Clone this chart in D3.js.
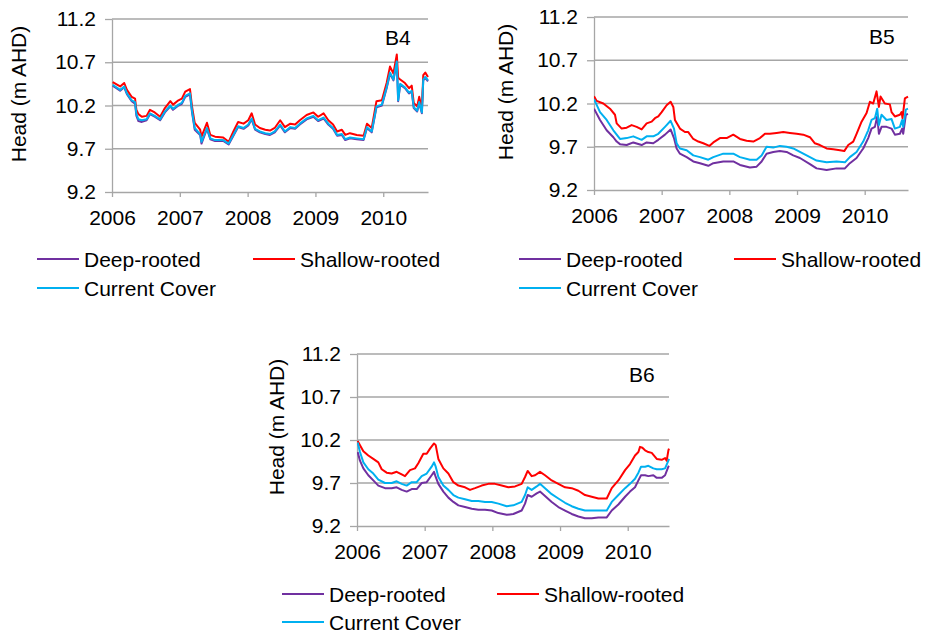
<!DOCTYPE html>
<html><head><meta charset="utf-8">
<script src="https://cdn.jsdelivr.net/npm/d3@7"></script>
<style>
html,body{margin:0;padding:0;background:#fff;}
svg text{font-family:"Liberation Sans",Arial,Helvetica,sans-serif;fill:#000;}
</style></head>
<body>
<svg id="chart" width="933" height="632"></svg>
<script>
// ---------- DATA ----------
const yearTicks = [2006, 2007, 2008, 2009, 2010];
const headTicks = [9.2, 9.7, 10.2, 10.7, 11.2];
const seriesNames = ["Deep-rooted", "Shallow-rooted", "Current Cover"];
const panelNames = ["B4", "B5", "B6"];
const yLabel = "Head (m AHD)";

// B4 (all series share dates)
const b4Dates = [2006.01,2006.12,2006.18,2006.22,2006.29,2006.34,2006.36,2006.39,2006.44,2006.51,2006.56,2006.63,2006.71,2006.78,2006.86,2006.90,2006.98,2007.03,2007.08,2007.15,2007.18,2007.22,2007.30,2007.32,2007.40,2007.45,2007.52,2007.64,2007.72,2007.79,2007.86,2007.94,2008.01,2008.06,2008.11,2008.18,2008.26,2008.33,2008.40,2008.48,2008.55,2008.63,2008.70,2008.77,2008.87,2008.97,2009.04,2009.12,2009.19,2009.26,2009.32,2009.39,2009.44,2009.51,2009.61,2009.71,2009.76,2009.83,2009.90,2009.98,2010.05,2010.10,2010.15,2010.20,2010.22,2010.25,2010.32,2010.38,2010.42,2010.45,2010.50,2010.53,2010.57,2010.59,2010.62,2010.66];
const b4Shallow = [10.47,10.42,10.46,10.38,10.30,10.28,10.15,10.10,10.07,10.08,10.15,10.12,10.07,10.17,10.25,10.21,10.26,10.28,10.36,10.39,10.19,10.00,9.92,9.84,10.00,9.86,9.84,9.83,9.78,9.90,10.01,9.99,10.03,10.11,9.98,9.94,9.92,9.91,9.94,10.03,9.95,9.99,9.98,10.03,10.09,10.12,10.07,10.11,10.03,9.98,9.90,9.92,9.86,9.88,9.86,9.85,9.99,9.94,10.25,10.26,10.46,10.65,10.57,10.79,10.52,10.50,10.46,10.40,10.43,10.23,10.19,10.30,10.17,10.55,10.58,10.53];
const b4Current = [10.44,10.38,10.42,10.34,10.26,10.24,10.10,10.04,10.03,10.04,10.11,10.08,10.04,10.13,10.20,10.16,10.21,10.23,10.31,10.34,10.14,9.94,9.87,9.78,9.94,9.82,9.80,9.80,9.76,9.86,9.96,9.94,9.98,10.05,9.93,9.90,9.88,9.87,9.90,9.98,9.90,9.95,9.94,9.99,10.05,10.08,10.03,10.06,9.99,9.94,9.86,9.87,9.81,9.83,9.82,9.81,9.95,9.90,10.19,10.21,10.41,10.58,10.50,10.71,10.26,10.45,10.41,10.35,10.37,10.18,10.14,10.24,10.12,10.50,10.53,10.49];
const b4Deep = [10.43,10.37,10.41,10.33,10.25,10.22,10.08,10.02,10.01,10.03,10.10,10.07,10.03,10.12,10.19,10.15,10.20,10.22,10.30,10.33,10.12,9.92,9.86,9.76,9.93,9.81,9.79,9.79,9.75,9.85,9.95,9.93,9.97,10.04,9.92,9.89,9.87,9.86,9.89,9.97,9.89,9.94,9.93,9.98,10.04,10.07,10.02,10.05,9.98,9.93,9.85,9.86,9.80,9.82,9.81,9.80,9.94,9.89,10.18,10.20,10.40,10.57,10.49,10.70,10.25,10.44,10.40,10.34,10.36,10.17,10.13,10.23,10.11,10.49,10.52,10.48];

// B5
const b5ShallowDates = [2006.000,2006.039,2006.138,2006.236,2006.310,2006.335,2006.409,2006.483,2006.556,2006.630,2006.704,2006.778,2006.852,2006.901,2006.950,2007.000,2007.073,2007.132,2007.172,2007.196,2007.270,2007.344,2007.393,2007.467,2007.541,2007.615,2007.704,2007.763,2007.861,2007.960,2008.058,2008.157,2008.255,2008.354,2008.452,2008.526,2008.600,2008.698,2008.797,2008.895,2008.994,2009.092,2009.191,2009.264,2009.338,2009.437,2009.535,2009.634,2009.698,2009.757,2009.831,2009.880,2009.954,2010.028,2010.077,2010.126,2010.175,2010.210,2010.234,2010.298,2010.372,2010.397,2010.446,2010.520,2010.545,2010.559,2010.594,2010.640];
const b5Shallow = [10.285,10.23,10.20,10.14,10.07,9.97,9.91,9.92,9.95,9.93,9.90,9.97,9.99,10.03,10.05,10.10,10.18,10.22,10.16,10.01,9.91,9.87,9.87,9.79,9.76,9.74,9.71,9.75,9.80,9.80,9.84,9.79,9.77,9.76,9.80,9.85,9.85,9.86,9.87,9.86,9.85,9.84,9.81,9.74,9.72,9.68,9.67,9.66,9.65,9.72,9.76,9.85,9.99,10.09,10.22,10.20,10.34,10.16,10.28,10.20,10.19,10.10,10.05,10.07,10.10,10.03,10.26,10.28];
const b5Dates = [2006.000,2006.089,2006.187,2006.286,2006.335,2006.384,2006.483,2006.581,2006.704,2006.778,2006.876,2006.950,2007.049,2007.132,2007.182,2007.221,2007.270,2007.369,2007.467,2007.566,2007.689,2007.763,2007.910,2008.058,2008.157,2008.304,2008.403,2008.477,2008.550,2008.649,2008.747,2008.846,2008.944,2009.043,2009.191,2009.289,2009.437,2009.584,2009.708,2009.781,2009.880,2009.978,2010.052,2010.101,2010.151,2010.185,2010.210,2010.249,2010.323,2010.397,2010.446,2010.520,2010.554,2010.569,2010.608,2010.640];
const b5Current = [10.25,10.10,10.01,9.89,9.84,9.79,9.80,9.82,9.78,9.82,9.82,9.85,9.93,10.00,9.91,9.74,9.68,9.66,9.60,9.58,9.55,9.58,9.62,9.62,9.58,9.55,9.55,9.60,9.70,9.69,9.71,9.70,9.68,9.64,9.58,9.54,9.52,9.53,9.52,9.58,9.64,9.76,9.89,10.01,10.03,10.14,9.95,10.07,10.01,10.02,9.91,9.93,10.01,9.93,10.13,10.14];
const b5Deep = [10.14,10.01,9.89,9.81,9.76,9.73,9.72,9.75,9.72,9.75,9.74,9.78,9.84,9.90,9.80,9.68,9.62,9.58,9.53,9.51,9.48,9.51,9.53,9.53,9.49,9.46,9.47,9.53,9.62,9.64,9.65,9.64,9.60,9.57,9.50,9.45,9.43,9.45,9.45,9.51,9.57,9.68,9.80,9.91,9.93,10.05,9.85,9.93,9.93,9.91,9.84,9.85,9.91,9.85,10.07,10.08];

// B6
const b6ShallowDates = [2006.010,2006.044,2006.094,2006.167,2006.241,2006.315,2006.365,2006.438,2006.512,2006.586,2006.660,2006.709,2006.783,2006.857,2006.906,2006.980,2007.030,2007.079,2007.138,2007.163,2007.202,2007.276,2007.350,2007.424,2007.498,2007.596,2007.670,2007.744,2007.842,2007.941,2008.039,2008.138,2008.236,2008.335,2008.433,2008.483,2008.522,2008.581,2008.631,2008.704,2008.778,2008.877,2008.975,2009.074,2009.172,2009.271,2009.369,2009.468,2009.567,2009.690,2009.764,2009.862,2009.961,2010.034,2010.108,2010.158,2010.182,2010.217,2010.256,2010.305,2010.355,2010.429,2010.502,2010.552,2010.576,2010.601,2010.610];
const b6Shallow = [10.19,10.14,10.07,10.02,9.98,9.94,9.86,9.82,9.81,9.83,9.80,9.78,9.85,9.87,9.93,10.04,10.04,10.10,10.16,10.14,9.98,9.87,9.81,9.71,9.67,9.65,9.62,9.64,9.67,9.69,9.69,9.67,9.65,9.66,9.69,9.77,9.84,9.78,9.79,9.83,9.79,9.73,9.69,9.65,9.64,9.61,9.56,9.54,9.52,9.52,9.64,9.73,9.85,9.92,10.02,10.06,10.12,10.11,10.08,10.06,10.05,9.98,9.97,9.99,9.96,10.08,10.10];
const b6Dates = [2006.010,2006.044,2006.094,2006.167,2006.241,2006.315,2006.414,2006.512,2006.586,2006.660,2006.734,2006.808,2006.882,2006.956,2007.030,2007.103,2007.138,2007.163,2007.202,2007.276,2007.350,2007.424,2007.498,2007.596,2007.695,2007.793,2007.892,2007.990,2008.089,2008.212,2008.310,2008.433,2008.483,2008.522,2008.581,2008.655,2008.704,2008.778,2008.877,2008.975,2009.074,2009.172,2009.271,2009.369,2009.468,2009.567,2009.690,2009.764,2009.862,2009.961,2010.034,2010.108,2010.158,2010.197,2010.256,2010.305,2010.379,2010.429,2010.502,2010.552,2010.601,2010.610];
const b6Current = [10.17,10.06,9.94,9.86,9.81,9.74,9.70,9.70,9.72,9.69,9.67,9.71,9.71,9.78,9.81,9.89,9.94,9.89,9.77,9.67,9.62,9.56,9.53,9.51,9.49,9.49,9.48,9.48,9.46,9.43,9.44,9.48,9.56,9.65,9.62,9.66,9.69,9.64,9.57,9.52,9.47,9.43,9.40,9.38,9.38,9.38,9.38,9.48,9.56,9.64,9.69,9.75,9.82,9.89,9.89,9.90,9.87,9.86,9.86,9.87,9.96,9.98];
const b6Deep = [10.06,9.96,9.87,9.79,9.73,9.67,9.64,9.64,9.65,9.62,9.60,9.63,9.63,9.70,9.71,9.79,9.83,9.77,9.69,9.60,9.53,9.48,9.44,9.42,9.40,9.39,9.39,9.38,9.35,9.33,9.34,9.38,9.46,9.56,9.54,9.58,9.60,9.55,9.48,9.42,9.38,9.34,9.31,9.29,9.29,9.30,9.30,9.38,9.45,9.54,9.60,9.65,9.73,9.79,9.79,9.78,9.79,9.76,9.76,9.79,9.89,9.90];

// ---------- STYLE / LAYOUT ----------
const colors = {"Deep-rooted": "#7030a0", "Shallow-rooted": "#ff0000", "Current Cover": "#00b0f0"};
const FONT = 21;

const panels = [
  {name: panelNames[0], left: 112, right: 428, top: 19, bottom: 192, xEnd: 2010.66,
   ylab: {x: 26, y: 94}, tag: {x: 385, y: 45},
   legend: {row1: 259, row2: 288, c1: 37, c2: 253},
   series: {"Deep-rooted": [b4Dates, b4Deep], "Shallow-rooted": [b4Dates, b4Shallow], "Current Cover": [b4Dates, b4Current]}},
  {name: panelNames[1], left: 594, right: 908, top: 17, bottom: 190, xEnd: 2010.64,
   ylab: {x: 513, y: 92}, tag: {x: 869, y: 43.5},
   legend: {row1: 259, row2: 288, c1: 519, c2: 734},
   series: {"Deep-rooted": [b5Dates, b5Deep], "Shallow-rooted": [b5ShallowDates, b5Shallow], "Current Cover": [b5Dates, b5Current]}},
  {name: panelNames[2], left: 357, right: 669, top: 354, bottom: 526, xEnd: 2010.61,
   ylab: {x: 284, y: 427}, tag: {x: 629, y: 382},
   legend: {row1: 594, row2: 622, c1: 282, c2: 497},
   series: {"Deep-rooted": [b6Dates, b6Deep], "Shallow-rooted": [b6ShallowDates, b6Shallow], "Current Cover": [b6Dates, b6Current]}}
];

const svg = d3.select("#chart");

panels.forEach((p, pi) => {
  const x = d3.scaleLinear().domain([2006, p.xEnd]).range([p.left, p.right]);
  const y = d3.scaleLinear().domain([9.2, 11.2]).range([p.bottom, p.top]);
  const g = svg.append("g");

  // gridlines
  g.append("g").selectAll("line").data(headTicks.slice(1)).join("line")
    .attr("x1", p.left).attr("x2", p.right)
    .attr("y1", d => y(d)).attr("y2", d => y(d))
    .attr("stroke", "#a6a6a6").attr("stroke-width", 1.3);

  // y axis
  const ya = g.append("g").attr("transform", `translate(${p.left},0)`)
    .call(d3.axisLeft(y).tickValues(headTicks).tickFormat(d3.format(".1f")).tickSize(7).tickPadding(9).tickSizeOuter(0));
  ya.select(".domain").attr("stroke", "#a6a6a6").attr("stroke-width", 1.3);
  ya.selectAll(".tick line").attr("stroke", "#a6a6a6").attr("stroke-width", 1.3);
  ya.selectAll("text").attr("font-size", FONT).attr("font-family", '"Liberation Sans",Arial,sans-serif').attr("fill", "#000");

  // x axis
  const xa = g.append("g").attr("transform", `translate(0,${p.bottom})`)
    .call(d3.axisBottom(x).tickValues(yearTicks).tickFormat(d3.format("d")).tickSize(5).tickPadding(13).tickSizeOuter(0));
  xa.select(".domain").attr("stroke", "#a6a6a6").attr("stroke-width", 1.3);
  xa.selectAll(".tick line").attr("stroke", "#a6a6a6").attr("stroke-width", 1.3);
  xa.selectAll("text").attr("font-size", FONT).attr("font-family", '"Liberation Sans",Arial,sans-serif').attr("fill", "#000");

  // clip
  const cid = "clip" + pi;
  svg.append("clipPath").attr("id", cid).append("rect")
    .attr("x", p.left).attr("y", p.top - 5).attr("width", p.right - p.left + 1).attr("height", p.bottom - p.top + 5);

  const line = d3.line().x(d => x(d[0])).y(d => y(d[1]));
  const order = ["Deep-rooted", "Shallow-rooted", "Current Cover"];
  order.forEach(name => {
    const [dates, vals] = p.series[name];
    const n = Math.min(dates.length, vals.length);
    const pts = d3.range(n).map(i => [dates[i], vals[i]]);
    g.append("path").datum(pts).attr("d", line)
      .attr("fill", "none").attr("stroke", colors[name]).attr("stroke-width", 2)
      .attr("stroke-linejoin", "round").attr("clip-path", `url(#${cid})`);
  });

  // y label
  g.append("text").attr("transform", `translate(${p.ylab.x},${p.ylab.y}) rotate(-90)`)
    .attr("text-anchor", "middle").attr("font-size", FONT).text(yLabel);

  // panel tag
  g.append("text").attr("x", p.tag.x).attr("y", p.tag.y).attr("font-size", FONT).text(p.name);

  // legend
  const items = [
    {name: seriesNames[0], x: p.legend.c1, y: p.legend.row1},
    {name: seriesNames[1], x: p.legend.c2, y: p.legend.row1},
    {name: seriesNames[2], x: p.legend.c1, y: p.legend.row2}
  ];
  items.forEach(it => {
    g.append("line").attr("x1", it.x).attr("x2", it.x + 42).attr("y1", it.y).attr("y2", it.y)
      .attr("stroke", colors[it.name]).attr("stroke-width", 2.2);
    g.append("text").attr("x", it.x + 47).attr("y", it.y + 7.5).attr("font-size", FONT).text(it.name);
  });
});
</script>
</body></html>
